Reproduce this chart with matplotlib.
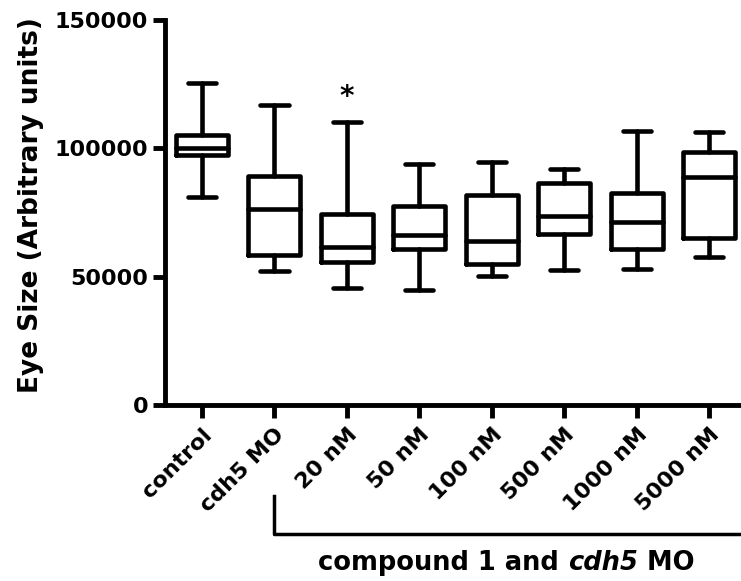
import matplotlib
matplotlib.use("Agg")
import matplotlib.pyplot as plt

plt.rcParams['font.family'] = ['DejaVu Sans']
plt.rcParams['font.weight'] = 'bold'

# box plot summaries (arbitrary units)
groups = ["control", "cdh5 MO", "20 nM", "50 nM", "100 nM", "500 nM", "1000 nM", "5000 nM"]
whislo = [81200, 52200, 45500, 44800, 50400, 52600, 52900, 57800]
q1 = [97400, 58400, 55600, 60600, 54800, 66500, 60800, 65200]
med = [100000, 76200, 61700, 66200, 63900, 73700, 71200, 88700]
q3 = [105200, 89200, 74300, 77500, 81800, 86600, 82500, 98700]
whishi = [125600, 116900, 110100, 93900, 94800, 91800, 106700, 106500]
star_group = "20 nM"
star_y = 120000

stats = []
for i, g in enumerate(groups):
    stats.append(dict(label=g, whislo=whislo[i], q1=q1[i], med=med[i],
                      q3=q3[i], whishi=whishi[i], fliers=[]))

fig = plt.figure(figsize=(7.41, 5.81), dpi=100)
ax = fig.add_axes([165 / 741, 176 / 581, 1 - 165 / 741, 385 / 581])

lw = 3.3
line_style = dict(color='black', linewidth=lw, solid_capstyle='round', solid_joinstyle='round')
pos = list(range(1, len(groups) + 1))
ax.bxp(stats, positions=pos, widths=0.72, showfliers=False,
       boxprops=line_style, medianprops=line_style,
       whiskerprops=line_style, capprops=line_style, capwidths=0.39)

ax.set_xlim(0.49, 8.44)
ax.set_ylim(0, 150000)
ax.set_yticks([0, 50000, 100000, 150000])
ax.set_yticklabels(["0", "50000", "100000", "150000"])
ax.set_xticks(pos)
ax.set_xticklabels(groups, rotation=45, ha='right', rotation_mode='anchor')

for side in ['top', 'right']:
    ax.spines[side].set_visible(False)
for side in ['left', 'bottom']:
    ax.spines[side].set_linewidth(3.5)
ax.tick_params(axis='both', width=3.5, length=9, pad=3)
ax.tick_params(axis='y', labelsize=16)
ax.tick_params(axis='x', labelsize=16, pad=5)
for lab in ax.get_xticklabels() + ax.get_yticklabels():
    lab.set_fontweight('bold')

ax.set_ylabel("Eye Size (Arbitrary units)", fontsize=19, fontweight='bold')
ax.yaxis.set_label_coords(-0.21, 0.52)

# significance marker
ax.text(groups.index(star_group) + 1, star_y, "*", ha='center', va='center',
        fontsize=20, fontweight='bold')

# bracket under the treated groups
trans = ax.get_xaxis_transform()
ax.plot([2, 2, 9], [-0.237, -0.336, -0.336], color='black', lw=2.5,
        transform=trans, clip_on=False)

# label made of three pieces so that cdh5 is italic; centred as a whole
fs = 18.5
t1 = fig.text(0, 563 / 581, "compound 1 and ", ha='left', va='center',
              fontsize=fs, fontweight='bold')
t2 = ax.annotate("cdh5", xy=(1, 0), xycoords=t1, ha='left', va='bottom',
                 fontsize=fs, fontweight='bold', style='italic')
t3 = ax.annotate(" MO", xy=(1, 0), xycoords=t2, ha='left', va='bottom',
                 fontsize=fs, fontweight='bold')
fig.canvas.draw()
r = fig.canvas.get_renderer()
total = sum(t.get_window_extent(r).width for t in (t1, t2, t3))
t1.set_x((506 - total / 2) / 741)
t1.set_y(1 - 563 / 581)

fig.savefig("out.png", dpi=100)
